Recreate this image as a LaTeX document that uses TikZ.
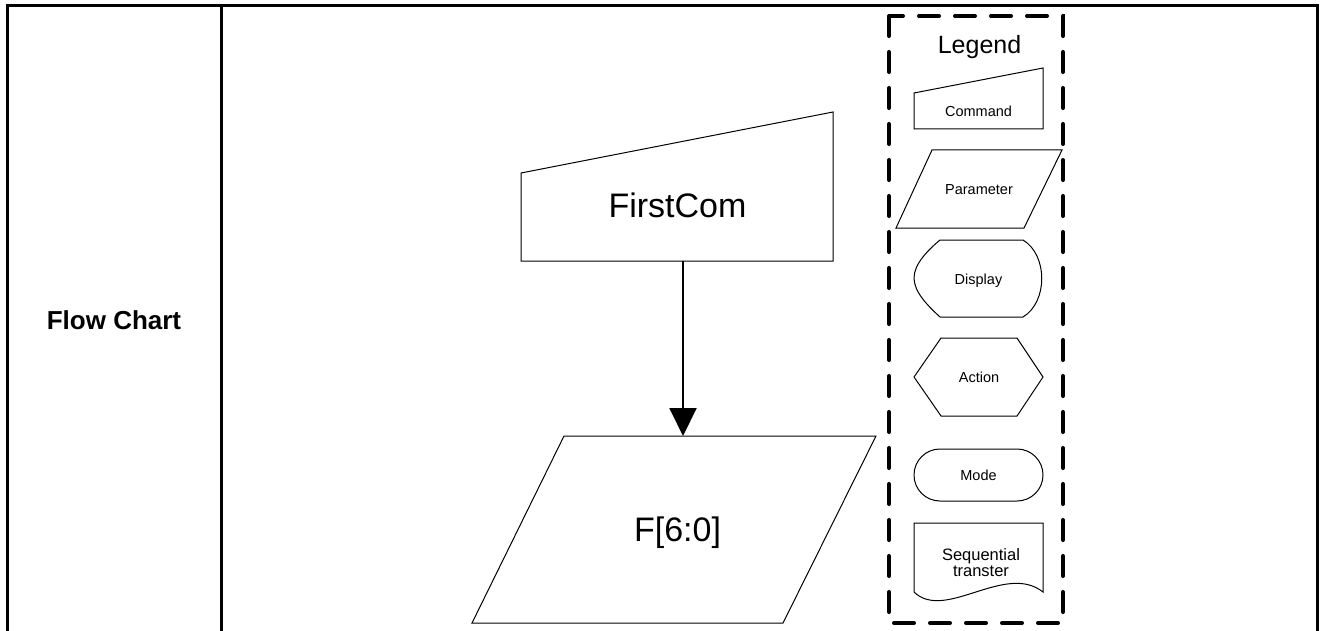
\documentclass[tikz,border=0pt]{standalone}
\usepackage{fontspec}
\setmainfont{Liberation Sans}
\usetikzlibrary{arrows.meta}
\begin{document}
\begin{tikzpicture}[x=1pt,y=-1pt,
  shp/.style={draw=black,line width=1pt,line join=miter},
  tbl/.style={draw=black,line width=3pt},
  lgbox/.style={draw=black,line width=4pt,dash pattern=on 20pt off 16pt,line cap=round},
  bigtxt/.style={inner sep=0pt,anchor=base,font=\fontsize{34}{40}\selectfont},
  lgtxt/.style={inner sep=0pt,anchor=base,font=\fontsize{14.5}{17}\selectfont},
  flow/.style={-{Triangle[length=28pt,width=27pt]},line width=2pt}]
\useasboundingbox (0,0) rectangle (1321,631);
% table
\draw[tbl] (7,631) -- (7,6) -- (1317,6) -- (1317,631);
\draw[tbl] (221,6) -- (221,631);
\node[inner sep=0pt,anchor=base,font=\bfseries\fontsize{26}{30}\selectfont] (title) at (114,329) {Flow Chart};
% main flow
\draw[shp] (521,173) -- (833,112) -- (833,261) -- (521,261) -- cycle;
\node[bigtxt] (fc) at (677.5,217) {FirstCom};
\coordinate (fcout) at (683,261);
\draw[shp] (564,436) -- (876,436) -- (783,623) -- (472,623) -- cycle;
\node[bigtxt] (fp) at (677.5,541) {F[6:0]};
\coordinate (fpin) at (683,436);
\draw[flow] (fcout) -- (fpin);
% legend
\draw[lgbox] (889,16) -- (889,623) -- (1063,623) -- (1063,16) -- cycle;
\node[inner sep=0pt,anchor=base,font=\fontsize{25}{28}\selectfont] (lg) at (979.5,54) {Legend};
\draw[shp] (914,93) -- (1043,68) -- (1043,129) -- (914,129) -- cycle;
\node[lgtxt] (cmd) at (978.5,117) {Command};
\draw[shp] (932,150) -- (1062,150) -- (1024,228) -- (896,228) -- cycle;
\node[lgtxt] (par) at (979,194) {Parameter};
\draw[shp] (940,240) -- (1023,240) .. controls (1048,255) and (1048,302) .. (1023,317) -- (940,317) .. controls (928,306) and (914,292) .. (914,278) .. controls (914,264) and (928,250) .. (940,240) -- cycle;
\node[lgtxt] (dsp) at (978.5,284) {Display};
\draw[shp] (914,377) -- (941,338) -- (1017,338) -- (1043,377) -- (1017,416) -- (941,416) -- cycle;
\node[lgtxt] (act) at (979,382) {Action};
\draw[shp,rounded corners=26pt] (914,449) rectangle (1043,501);
\node[lgtxt] (mode) at (978.5,480) {Mode};
\draw[shp] (914,592) -- (914,523) -- (1043,523) -- (1043,592) .. controls (1005,562) and (945,622) .. (914,592) -- cycle;
\node[inner sep=0pt,align=center,font=\fontsize{16.5}{16}\selectfont] (seq) at (981,563) {Sequential\\transter};
\end{tikzpicture}
\end{document}
